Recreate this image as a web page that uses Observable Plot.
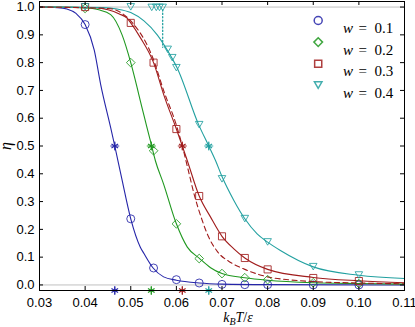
<!DOCTYPE html>
<html><head><meta charset="utf-8">
<script src="https://cdn.jsdelivr.net/npm/d3@7"></script>
<script src="https://cdn.jsdelivr.net/npm/@observablehq/plot@0.6"></script>
<style>
body{margin:0;background:#fff;}
#chart{width:415px;height:327px;overflow:hidden;}
</style></head><body><div id="chart"></div>
<script>
// ---- data ----
const xTicks = [0.03,0.04,0.05,0.06,0.07,0.08,0.09,0.10,0.11];
const yTicks = [0,0.1,0.2,0.3,0.4,0.5,0.6,0.7,0.8,0.9,1.0];
const seriesLabels = ["0.1","0.2","0.3","0.4"];
const seriesColors = ["#2525a8","#1f981f","#a01c1c","#22a0a0"];
const seriesSymbols = ["circle","diamond2","square","triangle2"];

// solid fitted curves
const curveT_1   = [0.030,0.034,0.036,0.038,0.040,0.042,0.0434,0.0456,0.0465,0.048,0.050,0.0521,0.0529,0.0549,0.0572,0.060,0.065,0.070,0.080,0.110];
const curveEta_1 = [1.000,0.998,0.993,0.977,0.937,0.845,0.722,0.566,0.500,0.385,0.238,0.136,0.113,0.061,0.029,0.017,0.007,0.003,0.001,0.000];
const curveT_2   = [0.030,0.038,0.040,0.043,0.0456,0.0481,0.050,0.0514,0.0521,0.0543,0.0554,0.0572,0.060,0.0624,0.0651,0.0675,0.070,0.075,0.080,0.090,0.100,0.110];
const curveEta_2 = [1.000,0.999,0.997,0.990,0.973,0.900,0.800,0.710,0.662,0.519,0.447,0.363,0.220,0.136,0.095,0.062,0.041,0.026,0.017,0.008,0.005,0.003];
const curveT_3   = [0.030,0.042,0.045,0.0475,0.0492,0.050,0.0521,0.055,0.0572,0.060,0.0613,0.0624,0.065,0.0675,0.070,0.0726,0.075,0.080,0.090,0.100,0.110];
const curveEta_3 = [1.000,0.998,0.990,0.975,0.960,0.943,0.890,0.800,0.686,0.561,0.500,0.447,0.320,0.244,0.175,0.130,0.097,0.056,0.027,0.015,0.008];
const curveT_4   = [0.030,0.044,0.047,0.050,0.0529,0.0558,0.058,0.0602,0.0649,0.0671,0.0686,0.070,0.0726,0.075,0.0777,0.080,0.0828,0.090,0.100,0.110];
const curveEta_4 = [1.000,0.998,0.993,0.980,0.950,0.900,0.845,0.780,0.576,0.500,0.447,0.390,0.304,0.238,0.184,0.154,0.124,0.065,0.035,0.023];

// dashed comparison curve (w = 0.3)
const dashT   = [0.030,0.045,0.050,0.055,0.0572,0.060,0.0613,0.0625,0.064,0.0655,0.067,0.069,0.072,0.075,0.078,0.080,0.085,0.090,0.100,0.110];
const dashEta = [1.000,0.995,0.950,0.810,0.700,0.575,0.500,0.420,0.320,0.240,0.175,0.120,0.080,0.056,0.038,0.029,0.018,0.012,0.007,0.004];

// dotted jump (w = 0.4)
const dotT   = [0.0570,0.0570];
const dotEta = [0.990,0.855];

// simulation markers
const markT_1   = [0.04,0.05,0.055,0.06,0.065,0.07,0.075,0.08,0.09,0.10];
const markEta_1 = [0.937,0.238,0.061,0.019,0.007,0.002,0.001,0.001,0.000,0.000];
const markT_2   = [0.04,0.05,0.055,0.06,0.065,0.07,0.075,0.08,0.09,0.10];
const markEta_2 = [0.995,0.800,0.483,0.220,0.095,0.041,0.026,0.019,0.008,0.005];
const markT_3   = [0.04,0.05,0.055,0.06,0.065,0.07,0.075,0.08,0.09,0.10];
const markEta_3 = [1.000,0.943,0.800,0.561,0.320,0.175,0.097,0.056,0.025,0.014];
const markT_4   = [0.04,0.05,0.0546,0.0556,0.0563,0.0570,0.0581,0.0591,0.0600,0.065,0.07,0.075,0.08,0.09,0.10];
const markEta_4 = [1.000,1.000,0.998,0.998,0.998,0.998,0.847,0.817,0.781,0.576,0.381,0.238,0.154,0.065,0.035];

// transition temperatures (asterisks)
const starT      = [0.0465,0.0545,0.0613,0.0671];
const starEtaMid = 0.5;
const starEtaAxis = -0.02;

// ---- build tables ----
const curveTs = [curveT_1,curveT_2,curveT_3,curveT_4];
const curveEs = [curveEta_1,curveEta_2,curveEta_3,curveEta_4];
const markTs = [markT_1,markT_2,markT_3,markT_4];
const markEs = [markEta_1,markEta_2,markEta_3,markEta_4];
const zip = (a,b) => a.map((t,i)=>({T:t, eta:b[i]}));

const marks = [];
marks.push(Plot.ruleY([0,1], {stroke:"#c0c0c0", strokeWidth:1}));
// curves
curveTs.forEach((ts,i)=>{
  marks.push(Plot.line(zip(ts,curveEs[i]), {x:"T", y:"eta", stroke:seriesColors[i], strokeWidth:1.1, curve:"monotone-x"}));
});
marks.push(Plot.line(zip(dashT,dashEta), {x:"T", y:"eta", stroke:seriesColors[2], strokeWidth:1.1, strokeDasharray:"5,3.5", curve:"monotone-x"}));
marks.push(Plot.line(zip(dotT,dotEta), {x:"T", y:"eta", stroke:seriesColors[3], strokeWidth:1.3, strokeDasharray:"1.2,2.2"}));
// markers
markTs.forEach((ts,i)=>{
  const sym = seriesSymbols[i];
  marks.push(Plot.dot(zip(ts,markEs[i]), {
    x:"T", y:"eta", symbol:sym, fill:"none", stroke:seriesColors[i], strokeOpacity:0.85, strokeWidth:1,
    r: sym==="triangle2" ? 3.6 : sym==="diamond2" ? 3.9 : 4,
    rotate: sym==="triangle2" ? 180 : 0, dy: sym==="triangle2" ? -1.3 : 0
  }));
});
// asterisks
starT.forEach((t,i)=>{
  const rows = [{T:t, eta:starEtaMid},{T:t, eta:starEtaAxis}];
  marks.push(Plot.dot(rows, {x:"T", y:"eta", symbol:"asterisk", r:3.6, stroke:seriesColors[i], strokeWidth:1.1}));
  marks.push(Plot.dot(rows, {x:"T", y:"eta", symbol:"plus", r:3.0, stroke:seriesColors[i], strokeWidth:0.9, rotate:90}));
});
// frame and ticks (inward)
marks.push(Plot.frame({stroke:"#000", strokeWidth:1}));
marks.push(Plot.ruleX(xTicks, {insetTop:285, stroke:"#000"}));
marks.push(Plot.ruleX(xTicks, {insetBottom:285, stroke:"#000"}));
marks.push(Plot.ruleY(yTicks, {insetRight:361, stroke:"#000"}));
marks.push(Plot.ruleY(yTicks, {insetLeft:361, stroke:"#000"}));
marks.push(Plot.axisX(xTicks, {tickSize:0, tickPadding:7, tickFormat:d3.format(".2f"), label:null, fill:"#000"}));
marks.push(Plot.axisY(yTicks, {tickSize:0, tickPadding:5, tickFormat:d3.format(".1f"), label:null, fill:"#000"}));
// legend
seriesLabels.forEach((lab,i)=>{
  const dy = 19 + i*21.6;
  const sym = seriesSymbols[i];
  marks.push(Plot.dot([0], {frameAnchor:"top-right", dx:-86.3, dy: dy + (sym==="triangle2" ? -1.3 : 0), symbol:sym, fill:"none",
    stroke:seriesColors[i], strokeOpacity:0.85, r: sym==="triangle2" ? 3.6 : sym==="diamond2" ? 3.9 : 4, rotate: sym==="triangle2" ? 180 : 0}));
  marks.push(Plot.text(["w"], {frameAnchor:"top-right", dx:-61.5, dy: dy+2, text:d=>d, textAnchor:"start", fontFamily:"Liberation Serif, serif", fontStyle:"italic", fontSize:15, fill:"#000"}));
  marks.push(Plot.text(["="], {frameAnchor:"top-right", dx:-46, dy: dy+2, text:d=>d, textAnchor:"start", fontFamily:"Liberation Serif, serif", fontSize:15, fill:"#000"}));
  marks.push(Plot.text([lab], {frameAnchor:"top-right", dx:-30, dy: dy+2, text:d=>d, textAnchor:"start", fontFamily:"Liberation Serif, serif", fontSize:15, fill:"#000"}));
});

const chart = Plot.plot({
  width:415, height:327,
  marginLeft:39, marginRight:11, marginTop:1, marginBottom:37,
  x:{domain:[0.03,0.11]},
  y:{domain:[-0.02,1.02]},
  style:{fontFamily:"Liberation Sans, Arial, sans-serif", fontSize:"13px", background:"#fff", overflow:"visible"},
  marks
});
document.getElementById("chart").appendChild(chart);

// axis titles with math styling
const svg = d3.select(chart);
const xl = svg.append("text").attr("x",238).attr("y",322).attr("text-anchor","middle")
  .attr("font-family","Liberation Serif, serif").attr("font-size",14).attr("fill","#000");
xl.append("tspan").attr("font-style","italic").text("k");
xl.append("tspan").attr("font-style","italic").attr("font-size",10).attr("dy",3).text("B");
xl.append("tspan").attr("font-style","italic").attr("dy",-3).text("T");
xl.append("tspan").text("/");
xl.append("tspan").attr("font-style","italic").text("ε");
svg.append("text").attr("transform","translate(11,146) rotate(-90)").attr("text-anchor","middle")
  .attr("font-family","Liberation Serif, serif").attr("font-style","italic").attr("font-size",16).attr("fill","#000").text("η");
</script>
</body></html>
